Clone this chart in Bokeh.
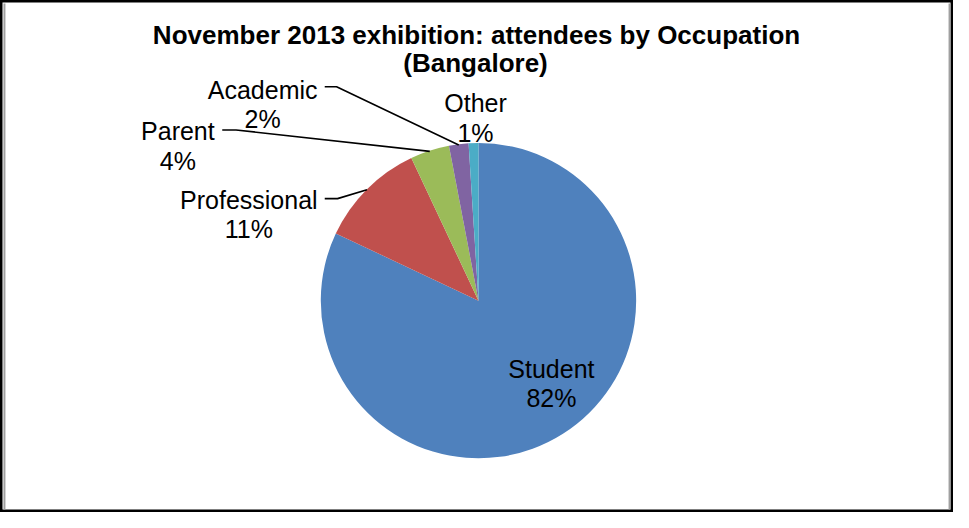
import numpy as np
from bokeh.plotting import figure
from bokeh.models import Range1d, ColumnDataSource
from bokeh.embed import file_html
from bokeh.resources import INLINE
from bokeh.core.properties import value

# ---------------- data ----------------
categories = ["Student", "Professional", "Parent", "Academic", "Other"]
shares = [82, 11, 4, 2, 1]
pct_labels = ["82%", "11%", "4%", "2%", "1%"]
colors = ["#4F81BD", "#C0504D", "#9BBB59", "#8064A2", "#4BACC6"]
title_lines = ["November 2013 exhibition: attendees by Occupation", "(Bangalore)"]

# ---------------- layout (reference pixel space, y measured downward) ----------------
REF_X0, REF_X1 = 1, 968
REF_Y0, REF_Y1 = 1, 523
W, H = 953, 512


def Y(y_ref):
    return REF_Y1 - y_ref


CX, CY, R = 486, 307, 160
# label centre x, baseline of name line, baseline of percent line
label_pos = {
    "Student": (560, 377, 406),
    "Professional": (253, 204, 234),
    "Parent": (181, 134, 165),
    "Academic": (267, 92, 122),
    "Other": (483, 106, 136),
}
# leader: label-end start point and elbow point (reference coords)
leaders = {
    "Professional": [(330, 203), (343, 203)],
    "Parent": [(226, 133), (240, 133)],
    "Academic": [(330, 89), (342, 89)],
}

p = figure(width=W, height=H, output_backend="svg", toolbar_location=None,
           x_range=Range1d(REF_X0, REF_X1), y_range=Range1d(0, REF_Y1 - REF_Y0),
           x_axis_type=None, y_axis_type=None, min_border=0,
           background_fill_color="white", border_fill_color="white")
p.grid.visible = False
p.outline_line_color = "black"
p.outline_line_width = 4

# inner grey shadow lines of the frame
p.segment(x0=[5, 964], y0=[Y(4), Y(4)], x1=[5, 964], y1=[Y(520), Y(520)],
          line_color="#A0A0A0", line_width=2)

# ---------------- pie ----------------
total = float(sum(shares))
frac = np.array(shares) / total
cum = np.concatenate([[0.0], np.cumsum(frac)])
start = np.pi / 2 - 2 * np.pi * cum[:-1]
end = np.pi / 2 - 2 * np.pi * cum[1:]
mid = (start + end) / 2

src = ColumnDataSource(dict(cat=categories, start=start, end=end, color=colors))
p.wedge(x=CX, y=Y(CY), radius=R, start_angle="start", end_angle="end",
        direction="clock", fill_color="color", line_color=None, source=src)

# leader lines
for i, cat in enumerate(categories):
    if cat in leaders:
        pts = leaders[cat]
        xs = [pt[0] for pt in pts] + [CX + R * np.cos(mid[i])]
        ys = [Y(pt[1]) for pt in pts] + [Y(CY) + R * np.sin(mid[i])]
        p.line(xs, ys, line_color="black", line_width=1.6)

# labels
lx, ly, lt = [], [], []
for i, cat in enumerate(categories):
    x, b1, b2 = label_pos[cat]
    lx += [x, x]
    ly += [Y(b1), Y(b2)]
    lt += [cat, pct_labels[i]]
p.text(x=lx, y=ly, text=lt, text_font=value("Liberation Sans"), text_font_size="25px",
       text_align="center", text_baseline="alphabetic", text_color="black")

# title
p.text(x=[484, 483], y=[Y(36), Y(65)], text=title_lines,
       text_font=value("Liberation Sans"), text_font_size="26px", text_font_style="bold",
       text_align="center", text_baseline="alphabetic", text_color="black")

open("out.html", "w").write(file_html(p, INLINE))
